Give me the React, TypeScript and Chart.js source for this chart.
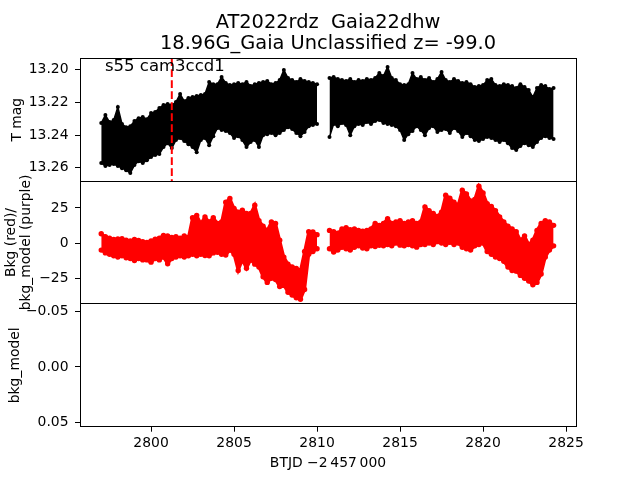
import { useEffect, useRef } from "react";
import { Chart, registerables } from "chart.js";

Chart.register(...registerables);

const FONT = "'DejaVu Sans', sans-serif";

const titleLines = ["AT2022rdz  Gaia22dhw", "18.96G_Gaia Unclassified z= -99.0"];
const sectorLabel = "s55 cam3ccd1";
const xTitle = "BTJD \u22122\u2009457\u2009000";
const magTitle = "T mag";
const bkgTitle = ["Bkg (red)/", "bkg_model (purple)"];
const modelTitle = "bkg_model";

const xTicks = [2800, 2805, 2810, 2815, 2820, 2825];
const magTicks = [13.2, 13.22, 13.24, 13.26];
const bkgTicks = [-25, 0, 25];
const modelTicks = [-0.05, 0, 0.05];

const xRange = [2795.72, 2825.6];
const magRange = [13.193, 13.2681];
const bkgRange = [-43.3, 44.1];
const modelRange = [-0.0565, 0.0536];

const markerTime = 2801.25;

const times = [
  2797.0, 2797.25, 2797.5, 2797.75, 2798.0, 2798.25, 2798.5, 2798.75, 2799.0, 2799.25,
  2799.5, 2799.75, 2800.0, 2800.25, 2800.5, 2800.75, 2801.0, 2801.25, 2801.5, 2801.75,
  2802.0, 2802.25, 2802.5, 2802.75, 2803.0, 2803.25, 2803.5, 2803.75, 2804.0, 2804.25,
  2804.5, 2804.75, 2805.0, 2805.25, 2805.5, 2805.75, 2806.0, 2806.25, 2806.5, 2806.75,
  2807.0, 2807.25, 2807.5, 2807.75, 2808.0, 2808.25, 2808.5, 2808.75, 2809.0, 2809.25,
  2809.5, 2809.75, 2810.0,
  2810.75, 2811.0, 2811.25, 2811.5, 2811.75, 2812.0, 2812.25, 2812.5, 2812.75, 2813.0,
  2813.25, 2813.5, 2813.75, 2814.0, 2814.25, 2814.5, 2814.75, 2815.0, 2815.25, 2815.5,
  2815.75, 2816.0, 2816.25, 2816.5, 2816.75, 2817.0, 2817.25, 2817.5, 2817.75, 2818.0,
  2818.25, 2818.5, 2818.75, 2819.0, 2819.25, 2819.5, 2819.75, 2820.0, 2820.25, 2820.5,
  2820.75, 2821.0, 2821.25, 2821.5, 2821.75, 2822.0, 2822.25, 2822.5, 2822.75, 2823.0,
  2823.25, 2823.5, 2823.75, 2824.0, 2824.25,
];

// upper (bright) edge of the T mag band
const magHi = [
  13.2326, 13.2277, 13.232, 13.2308, 13.2228, 13.2332, 13.2351, 13.2345, 13.2314, 13.2296,
  13.2289, 13.2302, 13.2265, 13.2259, 13.2234, 13.2216, 13.221, 13.2216, 13.2198, 13.2149,
  13.2192, 13.2173, 13.2167, 13.2161, 13.2155, 13.2149, 13.2075, 13.2088, 13.2088, 13.2045,
  13.2081, 13.2094, 13.2088, 13.2081, 13.2088, 13.2075, 13.21, 13.2088, 13.2081, 13.2075,
  13.2069, 13.2088, 13.2081, 13.2063, 13.2002, 13.2051, 13.2063, 13.2075, 13.2057, 13.2069,
  13.2075, 13.2081, 13.2088,
  13.2051, 13.2045, 13.2057, 13.2063, 13.2069, 13.2057, 13.2075, 13.2063, 13.2069, 13.2057,
  13.2063, 13.2051, 13.202, 13.2039, 13.1983, 13.2051, 13.2063, 13.2088, 13.2094, 13.2088,
  13.202, 13.2057, 13.2045, 13.2063, 13.2051, 13.2075, 13.2057, 13.2014, 13.2063, 13.2075,
  13.2057, 13.2069, 13.2081, 13.2075, 13.2088, 13.2106, 13.21, 13.2094, 13.2063, 13.2057,
  13.2094, 13.21, 13.2088, 13.2094, 13.21, 13.2112, 13.2088, 13.2106, 13.2124, 13.2167,
  13.2112, 13.2094, 13.21, 13.2118, 13.2112,
];

// lower (faint) edge of the T mag band
const magLo = [
  13.2571, 13.2589, 13.2583, 13.2577, 13.2589, 13.2602, 13.2614, 13.2632, 13.2583, 13.2559,
  13.2571, 13.2553, 13.2534, 13.2522, 13.2516, 13.2473, 13.2449, 13.2479, 13.243, 13.2418,
  13.2436, 13.2455, 13.2473, 13.2504, 13.243, 13.2418, 13.2461, 13.2406, 13.2357, 13.2369,
  13.2375, 13.2387, 13.2418, 13.2406, 13.243, 13.2473, 13.2442, 13.243, 13.2473, 13.24,
  13.2394, 13.2387, 13.24, 13.2387, 13.2369, 13.2351, 13.2363, 13.2387, 13.2406, 13.2381,
  13.2345, 13.2338, 13.2332,
  13.2412, 13.2332, 13.2345, 13.2326, 13.2338, 13.24, 13.2345, 13.2332, 13.2338, 13.232,
  13.2332, 13.2314, 13.2308, 13.2326, 13.2332, 13.2338, 13.2345, 13.2369, 13.243, 13.2394,
  13.2375, 13.2345, 13.2369, 13.24, 13.2357, 13.2345, 13.2381, 13.2369, 13.2363, 13.2387,
  13.2357, 13.2375, 13.2412, 13.2387, 13.2406, 13.243, 13.2436, 13.2424, 13.2412, 13.2418,
  13.243, 13.2442, 13.243, 13.2449, 13.2479, 13.2491, 13.2467, 13.2449, 13.2461, 13.2473,
  13.2442, 13.2418, 13.2406, 13.2418, 13.2424,
];

// upper edge of the background cloud
const bkgHi = [
  6.6, 4.5, 3.5, 2.5, 3, 3.1, 2, 1.5, 2.5, 1.9,
  1, 0.5, 1.5, 2.8, 3.5, 5.5, 5, 4, 4.5, 3.5,
  5, 4, 18, 19.6, 14, 18.6, 15, 18, 14, 15,
  29, 31.7, 24.6, 22, 23.4, 21, 21, 27, 16, 12,
  9, 15, 14, 2, -10, -15, -17, -18, -19.5, -6,
  8, 7.9, 6,
  9, 8, 7, 10, 11, 9.5, 10, 9, 8.5, 9,
  10, 14, 12.6, 14, 17.4, 14, 15, 16, 14, 15,
  16, 14, 15, 25.7, 23, 21, 19, 22, 34, 32,
  29, 27, 37.6, 35, 30, 31, 40.5, 35.7, 28, 26,
  23, 18.6, 15, 12, 10, 8, 2, 5, -1, 2,
  9, 14, 16, 15, 12.6,
];

// lower edge of the background cloud
const bkgLo = [
  -5, -7, -8, -9, -10, -9, -10.5, -11, -12.5, -11,
  -12, -12, -13.6, -11, -12, -10, -14.7, -11, -10, -9,
  -10, -9, -8, -9, -8, -8.8, -9, -7, -6.5, -8,
  -8.5, -5, -8, -19.5, -12, -18, -12, -15, -17, -24,
  -28, -25, -26, -31, -30, -35, -37, -39, -40, -33,
  -8, -6, -4,
  -4, -6.4, -5, -3, -4, -5, -3, -2, -3.5, -4,
  -2, -2.5, -1.6, -2, -1, -2, 0, -1.5, -2, -1,
  -2, -2.9, -1, -1, 0, -1, 1, 0, -1, 0.5,
  -1, 0, -3, -4, -5, -2, -1, 0, -6, -8,
  -10, -11, -13, -17, -19.5, -20, -23, -25, -27, -29.7,
  -28, -22, -10, -5, -2,
];

const black = "#000000";
const red = "#ff0000";

const tickFont = { family: FONT, size: 13.9 };
const gridOpts = {
  display: true,
  drawOnChartArea: false,
  drawTicks: true,
  tickLength: 5,
  color: black,
  lineWidth: 1,
  offset: false,
};

const minus = (s: string) => s.replace("-", "\u2212");

function yScale(
  weight: number,
  range: number[],
  ticks: number[],
  reverse: boolean,
  fmt: (v: number) => string,
  title: string | string[],
  titleTop: number,
  lineHeight: number
) {
  return {
    type: "linear",
    axis: "y",
    position: "left",
    stack: "panels",
    stackWeight: 1,
    weight,
    reverse,
    min: range[0],
    max: range[1],
    beginAtZero: false,
    grid: gridOpts,
    border: { display: false },
    ticks: {
      font: tickFont,
      color: black,
      padding: 6.5,
      autoSkip: false,
      includeBounds: false,
      callback: (v: number) => fmt(v),
    },
    afterBuildTicks: (s: any) => {
      s.ticks = ticks.map((v) => ({ value: v }));
    },
    afterFit: (s: any) => {
      s.width = 80;
    },
    title: {
      display: true,
      text: title,
      color: black,
      font: { family: FONT, size: 13.9, lineHeight },
      padding: { top: titleTop, bottom: 0 },
    },
  };
}

const decor = {
  id: "decor",
  afterDraw(chart: any) {
    const ctx = chart.ctx as CanvasRenderingContext2D;
    const ca = chart.chartArea;
    ctx.save();
    ctx.strokeStyle = black;
    ctx.lineWidth = 1;
    const l = Math.floor(ca.left) + 0.5;
    const r = Math.floor(ca.right) + 0.5;
    for (const id of ["yTop", "yMid", "yBot"]) {
      const s = chart.scales[id];
      const t = Math.floor(s.top) + 0.5;
      const b = Math.floor(s.bottom) + 0.5;
      ctx.strokeRect(l, t, r - l, b - t);
    }
    ctx.fillStyle = black;
    ctx.textAlign = "center";
    ctx.textBaseline = "alphabetic";
    ctx.font = `19.4px ${FONT}`;
    const cx = (ca.left + ca.right) / 2;
    ctx.fillText(titleLines[0], cx, 28);
    ctx.fillText(titleLines[1], cx, 49);
    ctx.textAlign = "left";
    ctx.font = `16.5px ${FONT}`;
    ctx.fillText(sectorLabel, 105, 70.5);
    ctx.restore();
  },
};

// build an edge line, breaking it where the observations have a gap
function edge(vals: number[]) {
  const out: { x: number; y: number | null }[] = [];
  times.forEach((t, i) => {
    if (i > 0 && t - times[i - 1] > 0.5) out.push({ x: (t + times[i - 1]) / 2, y: null });
    out.push({ x: t, y: vals[i] });
  });
  return out;
}

function pts(vals: number[]) {
  return times.map((t, i) => ({ x: t, y: vals[i] }));
}

export default function App() {
  const ref = useRef<HTMLCanvasElement>(null);

  useEffect(() => {
    const lineBase = {
      type: "line",
      pointRadius: 0,
      borderWidth: 1.5,
      tension: 0,
      spanGaps: false,
    };
    const chart = new Chart(ref.current as HTMLCanvasElement, {
      type: "line",
      data: {
        datasets: [
          {
            type: "line",
            data: [
              { x: markerTime, y: magRange[0] },
              { x: markerTime, y: magRange[1] },
            ],
            yAxisID: "yTop",
            borderColor: red,
            borderWidth: 2,
            borderDash: [7.7, 3.3],
            pointRadius: 0,
            fill: false,
          } as any,
          {
            ...lineBase,
            data: edge(magHi),
            yAxisID: "yTop",
            borderColor: black,
            backgroundColor: black,
            fill: "+1",
          } as any,
          {
            ...lineBase,
            data: edge(magLo),
            yAxisID: "yTop",
            borderColor: black,
            backgroundColor: black,
            fill: false,
          } as any,
          {
            type: "scatter",
            data: pts(magHi).concat(pts(magLo)),
            yAxisID: "yTop",
            backgroundColor: black,
            borderWidth: 0,
            pointRadius: 2,
          } as any,
          {
            ...lineBase,
            data: edge(bkgHi),
            yAxisID: "yMid",
            borderColor: red,
            backgroundColor: red,
            borderWidth: 3,
            fill: "+1",
          } as any,
          {
            ...lineBase,
            data: edge(bkgLo),
            yAxisID: "yMid",
            borderColor: red,
            backgroundColor: red,
            borderWidth: 3,
            fill: false,
          } as any,
          {
            type: "scatter",
            data: pts(bkgHi).concat(pts(bkgLo)),
            yAxisID: "yMid",
            backgroundColor: red,
            borderWidth: 0,
            pointRadius: 2.7,
          } as any,
        ],
      },
      options: {
        responsive: false,
        maintainAspectRatio: false,
        animation: false,
        devicePixelRatio: 1,
        layout: { padding: { top: 58.3, right: 64, left: 0, bottom: 0 } },
        plugins: {
          legend: { display: false },
          tooltip: { enabled: false },
          title: { display: false },
          filler: { propagate: false },
        },
        scales: {
          x: {
            type: "linear",
            position: "bottom",
            min: xRange[0],
            max: xRange[1],
            offset: false,
            grid: gridOpts,
            border: { display: false },
            ticks: {
              font: tickFont,
              color: black,
              padding: 3,
              autoSkip: false,
              maxRotation: 0,
              includeBounds: false,
              callback: (v: number) => String(v),
            },
            afterBuildTicks: (s: any) => {
              s.ticks = xTicks.map((v) => ({ value: v }));
            },
            afterFit: (s: any) => {
              s.height = 53.3;
            },
            title: {
              display: true,
              text: xTitle,
              color: black,
              font: { family: FONT, size: 13.9 },
              padding: { top: 0, bottom: 8.6 },
            },
          },
          yTop: yScale(3, magRange, magTicks, true, (v) => v.toFixed(2), magTitle, 8.7, 1.2),
          yMid: yScale(
            2,
            bkgRange,
            bkgTicks,
            false,
            (v) => minus(String(Math.round(v))),
            bkgTitle,
            3.9,
            1.07
          ),
          yBot: yScale(
            1,
            modelRange,
            modelTicks,
            true,
            (v) => minus((Math.abs(v) < 1e-9 ? 0 : v).toFixed(2)),
            modelTitle,
            7.4,
            1.2
          ),
        } as any,
      },
      plugins: [decor],
    } as any);
    return () => chart.destroy();
  }, []);

  return (
    <div style={{ position: "fixed", left: 0, top: 0, width: 640, height: 480, background: "#fff" }}>
      <canvas ref={ref} width={640} height={480} style={{ display: "block", width: 640, height: 480 }} />
    </div>
  );
}
